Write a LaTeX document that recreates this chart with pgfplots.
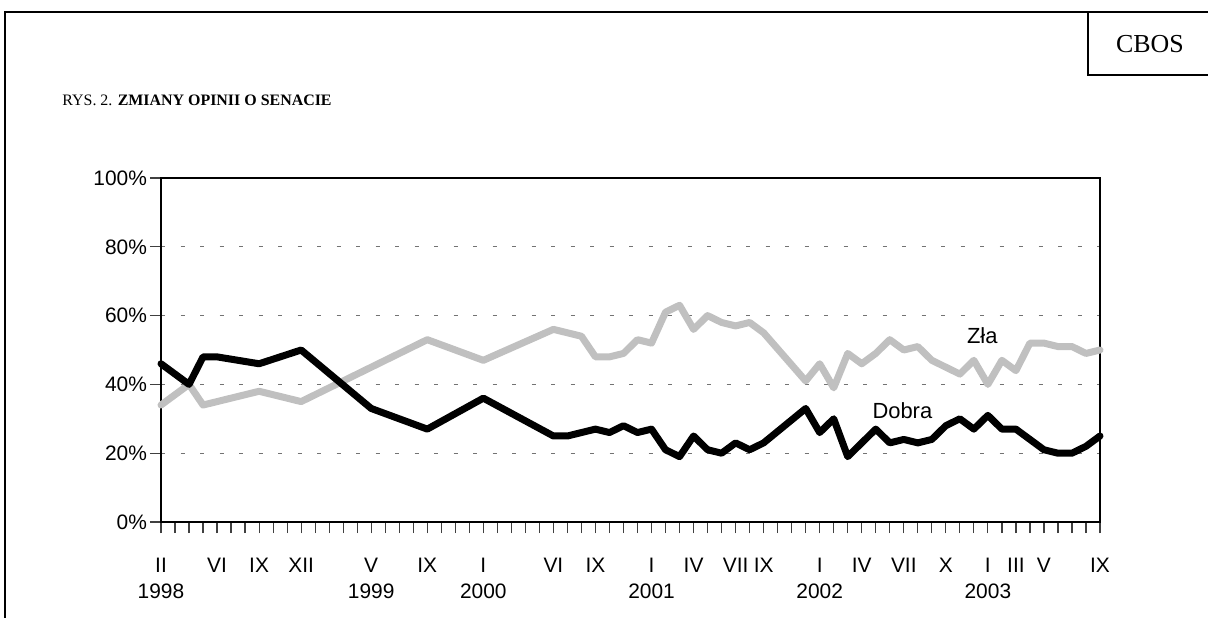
\documentclass[border=0pt]{standalone}
\usepackage{fontspec}
\setmainfont{Liberation Sans}
\newfontfamily\serif{Liberation Serif}
\usepackage{pgfplots}
\pgfplotsset{compat=1.18}
\usepackage{pgfplotstable}
\definecolor{zla}{RGB}{192,192,192}
\pgfplotstableread{
m v
0 46
2 40
3 48
4 48
7 46
10 50
15 33
19 27
23 36
28 25
29 25
30 26
31 27
32 26
33 28
34 26
35 27
36 21
37 19
38 25
39 21
40 20
41 23
42 21
43 23
46 33
47 26
48 30
49 19
50 23
51 27
52 23
53 24
54 23
55 24
56 28
57 30
58 27
59 31
60 27
61 27
62 24
63 21
64 20
65 20
66 22
67 25
}\dobra
\pgfplotstableread{
m v
0 34
2 40
3 34
4 35
7 38
10 35
15 45
19 53
23 47
28 56
29 55
30 54
31 48
32 48
33 49
34 53
35 52
36 61
37 63
38 56
39 60
40 58
41 57
42 58
43 55
46 41
47 46
48 39
49 49
50 46
51 49
52 53
53 50
54 51
55 47
56 45
57 43
58 47
59 40
60 47
61 44
62 52
63 52
64 51
65 51
66 49
67 50
}\zla
\begin{document}
\begin{tikzpicture}
\path[use as bounding box] (0,0) rectangle (604bp,309bp);
\draw[line width=1bp] (2.25bp,0) -- (2.25bp,303bp) -- (604bp,303bp);
\draw[line width=1bp] (544bp,303bp) -- (544bp,271.5bp) -- (604bp,271.5bp);
\node[font=\serif\fontsize{13}{15}\selectfont, inner sep=0pt, anchor=base] at (575bp,282.5bp) {CBOS};
\node[anchor=base west, font=\serif\fontsize{8}{10}\selectfont, inner sep=0pt] at (31bp,256bp) {RYS. 2. \textbf{ZMIANY OPINII O SENACIE}};
\begin{axis}[
  at={(80.5bp,48bp)}, anchor=south west, scale only axis,
  width=469.5bp, height=172bp,
  xmin=0, xmax=67, ymin=0, ymax=100,
  clip=false,
  axis line style={black, line width=0.6bp},
  tick pos=left, tick align=outside,
  tick style={black!75, line width=0.6bp},
  major tick length=5.5bp, minor tick length=5.5bp,
  ytick={0,20,40,60,80,100},
  yticklabel={\pgfmathprintnumber{\tick}\%},
  ymajorgrids,
  major grid style={dash pattern=on 2bp off 7.75bp, black!55, line width=0.6bp},
  xtick={0,4,7,10,15,19,23,28,31,35,38,41,43,47,50,53,56,59,61,63,67},
  xticklabels={II\\1998,VI,IX,XII,V\\1999,IX,I\\2000,VI,IX,I\\2001,IV,VII,IX,I\\2002,IV,VII,X,I\\2003,III,V,IX},
  minor xtick={0,...,67},
  xmajorgrids=false,
  /pgf/number format/assume math mode=true,
  ticklabel style={font=\fontsize{10.5}{13}\selectfont},
  xticklabel style={align=center, anchor=north, yshift=-9bp},
  yticklabel style={anchor=east, xshift=2bp},
  every axis plot/.append style={line join=round, line cap=round},
]
\addplot[zla, line width=3.5bp] table[x=m,y=v] {\zla};
\addplot[black, line width=3.5bp] table[x=m,y=v] {\dobra};
\node[font=\fontsize{11}{13}\selectfont] at (axis cs:58.6,54.1) {Zła};
\node[font=\fontsize{11}{13}\selectfont] at (axis cs:52.9,32.3) {Dobra};
\end{axis}
\end{tikzpicture}
\end{document}
